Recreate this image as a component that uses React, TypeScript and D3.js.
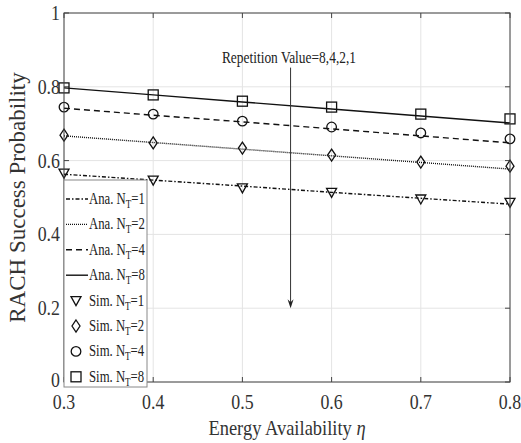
import React from "react";
import * as d3 from "d3";

// x values (energy availability)
const eta = [0.3, 0.4, 0.5, 0.6, 0.7, 0.8];
const xTicks = [0.3, 0.4, 0.5, 0.6, 0.7, 0.8];
const yTicks = [0, 0.2, 0.4, 0.6, 0.8, 1];

// analytical curves
const ana1 = [0.563, 0.547, 0.531, 0.514, 0.498, 0.482];
const ana2 = [0.667, 0.649, 0.631, 0.613, 0.595, 0.577];
const ana4 = [0.742, 0.723, 0.705, 0.686, 0.667, 0.648];
const ana8 = [0.797, 0.778, 0.759, 0.740, 0.721, 0.702];

// simulation points
const sim1 = [0.566, 0.547, 0.526, 0.514, 0.496, 0.487];
const sim2 = [0.669, 0.648, 0.634, 0.615, 0.596, 0.585];
const sim4 = [0.745, 0.726, 0.707, 0.691, 0.675, 0.659];
const sim8 = [0.797, 0.778, 0.761, 0.745, 0.726, 0.713];

const anaLabels = ["1", "2", "4", "8"];
const annotation = "Repetition Value=8,4,2,1";

const W = 521;
const H = 443;
const margin = { top: 13, right: 11, bottom: 61, left: 64 };
const FONT = "'Liberation Serif', 'Times New Roman', serif";

const dashes = ["4,2,1.5,2", "1,1", "6,4", ""];

const Marker = ({ kind, x, y }: { kind: string; x: number; y: number }) => {
  const st = { fill: "none", stroke: "#111", strokeWidth: 1.3 };
  if (kind === "tri")
    return <path d={`M${x - 5},${y - 4}L${x + 5},${y - 4}L${x},${y + 5}Z`} {...st} />;
  if (kind === "dia")
    return <path d={`M${x},${y - 6}L${x + 4},${y}L${x},${y + 6}L${x - 4},${y}Z`} {...st} />;
  if (kind === "cir") return <circle cx={x} cy={y} r={4.8} {...st} />;
  return <rect x={x - 5} y={y - 5} width={10} height={10} {...st} />;
};

const SText = ({ x, y, sx = 1, size, anchor = "start", fill = "#222", children }: any) => (
  <text
    transform={`translate(${x},${y}) scale(${sx},1)`}
    fontSize={size}
    fontFamily={FONT}
    textAnchor={anchor}
    fill={fill}
  >
    {children}
  </text>
);

export default function App() {
  const x = d3.scaleLinear().domain([0.3, 0.8]).range([margin.left, W - margin.right]);
  const y = d3.scaleLinear().domain([0, 1]).range([H - margin.bottom, margin.top]);
  const line = d3
    .line<number>()
    .x((_, i) => x(eta[i]))
    .y((d) => y(d));

  const anaSeries = [ana1, ana2, ana4, ana8];
  const simSeries = [sim1, sim2, sim4, sim8];
  const kinds = ["tri", "dia", "cir", "sq"];

  const x0 = margin.left;
  const x1 = W - margin.right;
  const y0 = H - margin.bottom;
  const y1 = margin.top;

  // legend box
  const lg = { x: 64, y: 180, w: 83, h: 207 };
  const rowH = 25.4;
  const row0 = 199;

  // annotation arrow
  const arrowX = x(0.554);
  const arrowTop = y(0.852);
  const arrowBot = y(0.2);

  return (
    <svg
      width={W}
      height={H}
      style={{ position: "absolute", left: 0, top: 0, background: "#fff" }}
    >
      {/* grid */}
      {xTicks.map((t) => (
        <line key={"gx" + t} x1={x(t)} x2={x(t)} y1={y0} y2={y1} stroke="#e4e4e4" />
      ))}
      {yTicks.map((t) => (
        <line key={"gy" + t} x1={x0} x2={x1} y1={y(t)} y2={y(t)} stroke="#e4e4e4" />
      ))}

      {/* ticks */}
      {xTicks.map((t) => (
        <g key={"tx" + t} stroke="#444">
          <line x1={x(t)} x2={x(t)} y1={y0} y2={y0 - 5} />
          <line x1={x(t)} x2={x(t)} y1={y1} y2={y1 + 5} />
        </g>
      ))}
      {yTicks.map((t) => (
        <g key={"ty" + t} stroke="#444">
          <line x1={x0} x2={x0 + 5} y1={y(t)} y2={y(t)} />
          <line x1={x1} x2={x1 - 5} y1={y(t)} y2={y(t)} />
        </g>
      ))}

      {/* curves */}
      {anaSeries.map((s, i) => (
        <path
          key={"ana" + i}
          d={line(s) || ""}
          fill="none"
          stroke="#111"
          strokeWidth={1.4}
          strokeDasharray={dashes[i]}
        />
      ))}
      {simSeries.map((s, i) =>
        s.map((v, j) => <Marker key={"m" + i + j} kind={kinds[i]} x={x(eta[j])} y={y(v)} />)
      )}

      {/* annotation */}
      <SText x={x(0.477)} y={y(0.864)} sx={0.84} size={16} fill="#222">
        {annotation}
      </SText>
      <line x1={arrowX} x2={arrowX} y1={arrowTop} y2={arrowBot - 2} stroke="#333" strokeWidth={1} />
      <path
        d={`M${arrowX - 3},${arrowBot - 9}L${arrowX},${arrowBot}L${arrowX + 3},${arrowBot - 9}L${arrowX},${arrowBot - 6}Z`}
        fill="#222"
      />

      {/* axes box */}
      <rect x={x0} y={y1} width={x1 - x0} height={y0 - y1} fill="none" stroke="#444" strokeWidth={1} />

      {/* tick labels */}
      {xTicks.map((t) => (
        <SText key={"lx" + t} x={x(t)} y={409} sx={0.85} size={21} anchor="middle" fill="#333">
          {d3.format(".1f")(t)}
        </SText>
      ))}
      {yTicks.map((t) => (
        <SText
          key={"ly" + t}
          x={60}
          y={y(t) + (t === 0 ? 5 : 7)}
          sx={0.85}
          size={21}
          anchor="end"
          fill="#333"
        >
          {t === 0 || t === 1 ? String(t) : d3.format(".1f")(t)}
        </SText>
      ))}

      {/* axis labels */}
      <SText x={(x0 + x1) / 2} y={435} sx={0.84} size={22} anchor="middle" fill="#333">
        Energy Availability <tspan fontStyle="italic">η</tspan>
      </SText>
      <text
        transform={`translate(25,${(y0 + y1) / 2}) rotate(-90)`}
        fontSize={23}
        fontFamily={FONT}
        textAnchor="middle"
        fill="#333"
      >
        RACH Success Probability
      </text>

      {/* legend */}
      <rect x={lg.x} y={lg.y} width={lg.w} height={lg.h} fill="#fff" stroke="#888" strokeWidth={1} />
      {anaLabels.map((n, i) => {
        const ry = row0 + i * rowH;
        return (
          <g key={"la" + i}>
            <line x1={66} x2={88} y1={ry} y2={ry} stroke="#111" strokeWidth={1.4} strokeDasharray={dashes[i]} />
            <SText x={89} y={ry + 5} sx={0.75} size={17}>
              Ana. N<tspan fontSize={12} dy={4}>T</tspan>
              <tspan dy={-4}>={n}</tspan>
            </SText>
          </g>
        );
      })}
      {anaLabels.map((n, i) => {
        const ry = row0 + (i + 4) * rowH;
        return (
          <g key={"ls" + i}>
            <Marker kind={kinds[i]} x={76} y={ry} />
            <SText x={89} y={ry + 5} sx={0.75} size={17}>
              Sim. N<tspan fontSize={12} dy={4}>T</tspan>
              <tspan dy={-4}>={n}</tspan>
            </SText>
          </g>
        );
      })}
    </svg>
  );
}
